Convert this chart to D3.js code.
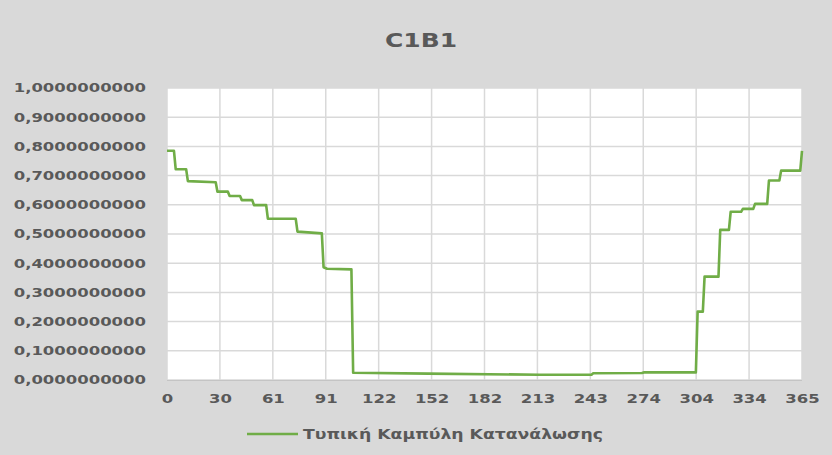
<!DOCTYPE html>
<html><head><meta charset="utf-8">
<script src="https://cdn.jsdelivr.net/npm/d3@7"></script>
<style>
html,body{margin:0;padding:0;background:#d9d9d9;}
svg{display:block;}
text{font-family:"DejaVu Sans",sans-serif;font-weight:bold;fill:#595959;}
</style></head>
<body>
<svg id="chart" width="832" height="455"></svg>
<script>
// ---- data ----
const title = "C1B1";
const seriesName = "Τυπική Καμπύλη Κατανάλωσης";
const days   = [0,4,5,11,12,28,29,35,36,42,43,49,50,57,58,74,75,89,90,92,106,107,150,214,244,245,273,274,304,305,308,309,317,318,323,324,330,331,337,338,345,346,352,353,364,365];
const values = [0.785,0.785,0.722,0.722,0.681,0.677,0.645,0.645,0.630,0.630,0.616,0.616,0.599,0.599,0.552,0.552,0.508,0.502,0.386,0.381,0.379,0.025,0.022,0.018,0.018,0.023,0.024,0.026,0.026,0.234,0.234,0.354,0.354,0.514,0.514,0.576,0.576,0.586,0.586,0.603,0.603,0.683,0.683,0.717,0.717,0.785];
const xTickLabels = ["0","30","61","91","122","152","182","213","243","274","304","334","365"];
const yTicks = [0,0.1,0.2,0.3,0.4,0.5,0.6,0.7,0.8,0.9,1.0];

// ---- layout ----
const W = 832, H = 455;
const L = 167, R = 802, T = 88, B = 380;
const SX = 1.34; // horizontal text stretch of the reference
const svg = d3.select("#chart");
svg.append("rect").attr("width", W).attr("height", H).attr("fill", "#d9d9d9");

const x = d3.scaleLinear().domain([0, 365]).range([L, R]);
const y = d3.scaleLinear().domain([0, 1]).range([B, T]);
const xTickVals = xTickLabels.map((d, i) => i * 365 / (xTickLabels.length - 1));

// plot area
svg.append("rect").attr("x", L).attr("y", T).attr("width", R - L).attr("height", B - T).attr("fill", "#ffffff");

// gridlines
svg.append("g").selectAll("line").data(yTicks).join("line")
  .attr("x1", L).attr("x2", R).attr("y1", d => y(d)).attr("y2", d => y(d))
  .attr("stroke", "#d9d9d9").attr("stroke-width", 1.5);
svg.append("g").selectAll("line").data(xTickVals).join("line")
  .attr("x1", d => x(d)).attr("x2", d => x(d)).attr("y1", T).attr("y2", B)
  .attr("stroke", "#d9d9d9").attr("stroke-width", 1.5);
svg.append("line").attr("x1", L).attr("x2", R).attr("y1", B + 0.5).attr("y2", B + 0.5)
  .attr("stroke", "#c4c4c4").attr("stroke-width", 1);

// axes
const fmt = v => d3.format(".10f")(v).replace(".", ",");
const yAxis = svg.append("g").attr("transform", `translate(${L},0)`)
  .call(d3.axisLeft(y).tickValues(yTicks).tickFormat(fmt).tickSize(0).tickPadding(21));
yAxis.select(".domain").remove();
yAxis.selectAll("text").attr("font-size", 12.3)
  .attr("x", -21 / SX).attr("transform", `scale(${SX},1)`);

const xAxis = svg.append("g").attr("transform", `translate(0,${B})`)
  .call(d3.axisBottom(x).tickValues(xTickVals).tickFormat((d, i) => xTickLabels[i]).tickSize(0).tickPadding(14));
xAxis.select(".domain").remove();
xAxis.selectAll("text").attr("font-size", 12.3).attr("transform", `scale(${SX},1)`);

// line
const line = d3.line().x(d => x(d[0])).y(d => y(d[1]));
svg.append("path").datum(days.map((d, i) => [d, values[i]]))
  .attr("d", line).attr("fill", "none").attr("stroke", "#70ad47")
  .attr("stroke-width", 2.6).attr("stroke-linejoin", "round");

// title
svg.append("text").attr("x", 421).attr("y", 47).attr("text-anchor", "middle")
  .attr("font-size", 19).attr("textLength", 72).attr("lengthAdjust", "spacingAndGlyphs")
  .text(title);

// legend
svg.append("line").attr("x1", 247).attr("x2", 298).attr("y1", 434).attr("y2", 434)
  .attr("stroke", "#70ad47").attr("stroke-width", 2.6);
svg.append("text").attr("x", 303).attr("y", 439).attr("font-size", 14)
  .attr("textLength", 300).attr("lengthAdjust", "spacingAndGlyphs").text(seriesName);
</script>
</body></html>
